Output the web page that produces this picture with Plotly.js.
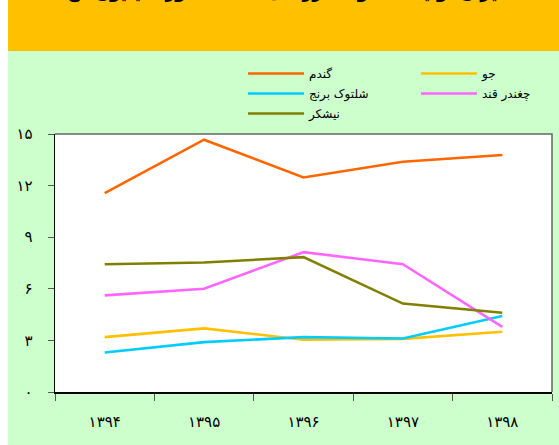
<!DOCTYPE html>
<html><head><meta charset="utf-8">
<script src="https://cdn.plot.ly/plotly-3.0.1.min.js"></script>
<style>html,body{margin:0;padding:0;background:#fff;}#chart{position:absolute;left:8px;top:0;width:551px;height:445px;}</style>
</head><body><div id="chart"></div>
<script>
const years = ['۱۳۹۴','۱۳۹۵','۱۳۹۶','۱۳۹۷','۱۳۹۸'];
const wheat = [11.56, 14.67, 12.47, 13.39, 13.78];
const barley = [3.19, 3.70, 3.04, 3.09, 3.50];
const paddy = [2.30, 2.90, 3.19, 3.11, 4.42];
const sugarBeet = [5.62, 6.00, 8.13, 7.43, 3.79];
const sugarcane = [7.43, 7.53, 7.84, 5.14, 4.61];
const seriesNames = ['گندم','جو','شلتوک برنج','چغندر قند','نیشکر'];
const yTickVals = [0,3,6,9,12,15];
const yTickText = ['۰','۳','۶','۹','۱۲','۱۵'];
const titleText = 'میزان تولید محصولات زراعی عمده کشور (میلیون تن)';

const colors = ['#FF6600','#FFC000','#00CCFF','#FF66FF','#808000'];
const legendOf = ['legend','legend2','legend','legend2','legend'];
const data = [wheat, barley, paddy, sugarBeet, sugarcane].map((v,i)=>({
  type:'scatter', mode:'lines', x:years, y:v, name:seriesNames[i],
  legend:legendOf[i], legendgroup:'g'+i,
  line:{color:colors[i], width:2.6}
}));

const legendCommon = {orientation:'v', yanchor:'top', xanchor:'left', traceorder:'grouped', tracegroupgap:1,
  font:{size:12, color:'#000'}, bgcolor:'rgba(0,0,0,0)', itemwidth:56, borderwidth:0};

const layout = {
  width:551, height:445,
  margin:{l:47, r:7, t:134, b:53, autoexpand:false},
  paper_bgcolor:'#CCFFCC', plot_bgcolor:'#FFFFFF',
  font:{family:'DejaVu Sans, sans-serif', color:'#000'},
  showlegend:true,
  legend:Object.assign({}, legendCommon, {x:(243-55)/497, y:(392-59)/258}),
  legend2:Object.assign({}, legendCommon, {x:(416-55)/497, y:(392-59)/258}),
  xaxis:{type:'category', range:[-0.5,4.5], tickson:'boundaries', ticks:'outside', ticklen:7,
    tickcolor:'#555', showline:true, linecolor:'#000', linewidth:1.5, showgrid:false, zeroline:false,
    tickfont:{size:15}, ticklabelstandoff:15, fixedrange:true},
  yaxis:{range:[0,15], tickvals:yTickVals, ticktext:yTickText, ticks:'outside', ticklen:6,
    tickcolor:'#555', showline:true, linecolor:'#000', linewidth:1.5, showgrid:false, zeroline:false,
    tickfont:{size:15}, ticklabelstandoff:12, fixedrange:true},
  shapes:[
    {type:'rect', xref:'paper', yref:'paper', x0:-0.2, x1:1.1, y0:(392-51)/258, y1:1.6,
      fillcolor:'#FFC000', line:{width:0}, layer:'below'},
    {type:'path', xref:'paper', yref:'paper', path:'M0,1 L1,1 L1,0', line:{color:'#666', width:1.5}}
  ],
  annotations:[
    {text:'<b>'+titleText+'</b>', xref:'paper', yref:'paper', x:0.46, y:(392-5)/258, xanchor:'center', yanchor:'bottom',
     showarrow:false, font:{size:17, color:'#000'}}
  ]
};
Plotly.newPlot('chart', data, layout, {displayModeBar:false, staticPlot:true});
</script></body></html>
